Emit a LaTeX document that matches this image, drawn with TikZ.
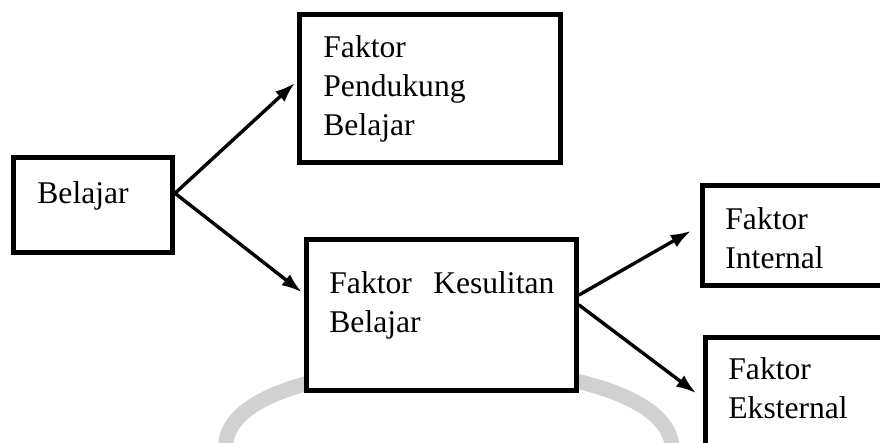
\documentclass[tikz,border=0pt]{standalone}
\usepackage{fontspec}
\setmainfont{Liberation Serif}
\usetikzlibrary{arrows.meta}
\begin{document}
\begin{tikzpicture}[x = 0.5pt, y = -0.5pt,
    kotak/.style = {draw, fill = white, line width = 2.5pt, inner sep = 0pt},
    teks/.style = {anchor = north west, inner sep = 0pt, align = left, font = \fontsize{15.8pt}{19.5pt}\selectfont},
    panah/.style = {-{Latex[length = 10pt, width = 7pt]}, line width = 1.7pt, line cap = round}]

        \path [use as bounding box, clip] (0,0) rectangle (880,443);
        \draw [black!18, line width = 7.5pt] (226,450) .. controls (215,340) and (675,340) .. (672,450);

        \node [kotak, minimum width = 79.5pt, minimum height = 47.25pt] (belajar) at (93,205.25) {};
        \node [kotak, minimum width = 130.5pt, minimum height = 74pt] (pendukung) at (430,88.5) {};
        \node [kotak, minimum width = 135pt, minimum height = 75.5pt] (kesulitan) at (441.5,315) {};
        \node [kotak, minimum width = 100pt, minimum height = 50pt] (internal) at (802,235.5) {};
        \node [kotak, minimum width = 100pt, minimum height = 66.25pt] (eksternal) at (805,403.75) {};

        \node [teks, anchor = base west] (tbelajar) at (37,204) {Belajar};
        \node [teks] (tpendukung) at (323,35.4) {Faktor\\Pendukung\\Belajar};
        \node [teks, text width = 112.5pt] (tkesulitan) at (329,271.4) {Faktor\hfill Kesulitan\\Belajar};
        \node [teks] (tinternal) at (725,207.4) {Faktor\\Internal};
        \node [teks] (teksternal) at (728,357.4) {Faktor\\Eksternal};

        \draw [panah, shorten > = 1.5pt] ([yshift = 6pt] belajar.east) -- ([yshift = 3.75pt] pendukung.west);
        \draw [panah, shorten > = 1.5pt] ([yshift = 6pt] belajar.east) -- ([yshift = 10.5pt] kesulitan.west);
        \draw [panah, shorten > = 5pt] ([yshift = 10pt] kesulitan.east) -- ([yshift = 4.75pt] internal.west);
        \draw [panah, shorten > = 4pt] ([yshift = 5pt] kesulitan.east) -- ([yshift = 2.9pt] eksternal.west);
\end{tikzpicture}
\end{document}
